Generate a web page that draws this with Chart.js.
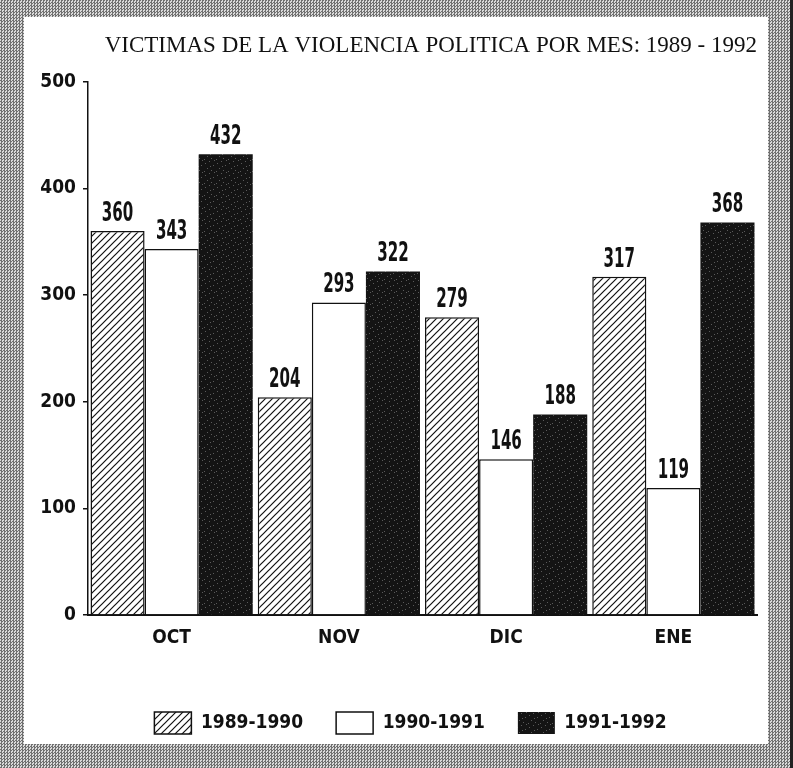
<!DOCTYPE html>
<html>
<head>
<meta charset="utf-8">
<script src="https://cdn.jsdelivr.net/npm/chart.js@4.4.1/dist/chart.umd.min.js"></script>
<style>
  html, body { margin: 0; padding: 0; }
  body {
    width: 793px; height: 768px; overflow: hidden; position: relative;
    background: repeating-conic-gradient(#707070 0 25%, #dadada 0 50%) 0 0 / 3px 3px;
  }
  #frame {
    position: absolute; left: 24px; top: 17px; width: 744px; height: 727px;
    background: #fff;
  }
  #edge { position: absolute; right: 0; top: 0; width: 3px; height: 768px; background: #222; }
</style>
</head>
<body>
<div id="edge"></div>
<div id="frame"><canvas id="chart" width="744" height="727"></canvas></div>
<script>
// Chart data
const months = ['OCT', 'NOV', 'DIC', 'ENE'];
const seriesNames = ['1989-1990', '1990-1991', '1991-1992'];
const victims8990 = [360, 204, 279, 317];
const victims9091 = [343, 293, 146, 119];
const victims9192 = [432, 322, 188, 368];
const yTicks = [0, 100, 200, 300, 400, 500];

const titleText = 'VICTIMAS DE LA VIOLENCIA POLITICA POR MES: 1989 - 1992';
const narrow = '"DejaVu Sans Condensed", "Liberation Sans Narrow", sans-serif';

// hatch pattern "/" for the first series
function makeHatch() {
    const c = document.createElement('canvas');
    c.width = 7; c.height = 7;
    const g = c.getContext('2d');
    g.fillStyle = '#fff';
    g.fillRect(0, 0, 7, 7);
    g.strokeStyle = '#111';
    g.lineWidth = 1.2;
    g.beginPath();
    g.moveTo(-1, 8); g.lineTo(8, -1);
    g.moveTo(-4, 4); g.lineTo(4, -4);
    g.moveTo(3, 11); g.lineTo(11, 3);
    g.stroke();
    return g.createPattern(c, 'repeat');
}

// grainy dark fill for the last series (fixed speckle layout)
function makeGrain() {
    const c = document.createElement('canvas');
    c.width = 12; c.height = 12;
    const g = c.getContext('2d');
    g.fillStyle = '#141414';
    g.fillRect(0, 0, 12, 12);
    const dots = [[1,2],[5,0],[9,4],[3,7],[7,9],[10,11],[0,10],[6,5]];
    g.fillStyle = '#5a5a5a';
    dots.forEach(d => g.fillRect(d[0], d[1], 1, 1));
    return g.createPattern(c, 'repeat');
}

// values written above each bar, in a tall narrow face
const valueLabels = {
    id: 'valueLabels',
    afterDatasetsDraw(chart) {
        const ctx = chart.ctx;
        const sx = 0.62;
        chart.data.datasets.forEach((ds, i) => {
            chart.getDatasetMeta(i).data.forEach((bar, j) => {
                ctx.save();
                ctx.fillStyle = '#111';
                ctx.font = 'bold 27px ' + narrow;
                ctx.textAlign = 'center';
                ctx.textBaseline = 'alphabetic';
                ctx.translate(bar.x, bar.y - 10);
                ctx.scale(sx, 1);
                ctx.fillText(String(ds.data[j]), 0, 0);
                ctx.restore();
            });
        });
    }
};

// the printed legend sits a little left of the plot centre
const legendShift = {
    id: 'legendShift',
    afterLayout(chart) {
        if (chart.legend) {
            chart.legend.left -= 12;
            chart.legend.right -= 12;
        }
    }
};

const ctx = document.getElementById('chart').getContext('2d');

new Chart(ctx, {
    type: 'bar',
    data: {
        labels: months,
        datasets: [
            { label: seriesNames[0], data: victims8990, backgroundColor: makeHatch(), borderColor: '#111', borderWidth: 1.5 },
            { label: seriesNames[1], data: victims9091, backgroundColor: '#fff', borderColor: '#111', borderWidth: 1.5 },
            { label: seriesNames[2], data: victims9192, backgroundColor: makeGrain(), borderColor: '#111', borderWidth: 0 }
        ]
    },
    options: {
        responsive: false,
        animation: false,
        layout: { padding: { left: 0, right: 11, top: 0, bottom: 0 } },
        datasets: { bar: { categoryPercentage: 0.97, barPercentage: 1.0 } },
        scales: {
            x: {
                grid: { display: false },
                border: { display: true, color: '#111', width: 2 },
                ticks: { color: '#111', font: { family: narrow, size: 19, weight: 'bold' }, padding: 4 },
                afterFit(scale) { scale.height = 64; }
            },
            y: {
                min: 0, max: 500,
                afterBuildTicks(scale) { scale.ticks = yTicks.map(v => ({ value: v })); },
                grid: { drawOnChartArea: false, drawTicks: true, tickLength: 5, color: '#111', lineWidth: 1.5 },
                border: { display: true, color: '#111', width: 1.5 },
                ticks: { color: '#111', font: { family: narrow, size: 19, weight: 'bold' }, padding: 7 },
                afterFit(scale) { scale.width = 64; }
            }
        },
        plugins: {
            title: {
                display: true,
                text: titleText,
                align: 'end',
                color: '#111',
                font: { family: '"Liberation Serif", "DejaVu Serif", serif', size: 23, weight: 'normal' },
                padding: { top: 15, bottom: 22 }
            },
            legend: {
                position: 'bottom',
                fullSize: false,
                labels: {
                    color: '#111',
                    boxWidth: 37,
                    boxHeight: 22,
                    padding: 33,
                    font: { family: narrow, size: 19, weight: 'bold' }
                }
            },
            tooltip: { enabled: false }
        }
    },
    plugins: [valueLabels, legendShift]
});
</script>
</body>
</html>
